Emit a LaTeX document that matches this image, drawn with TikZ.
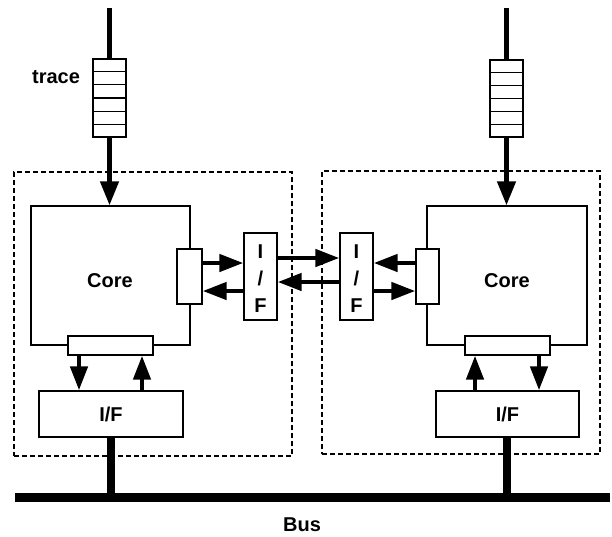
\documentclass[tikz,border=0pt]{standalone}
\usepackage{fontspec}
\setmainfont{Liberation Sans}
\usetikzlibrary{arrows.meta,calc}
\begin{document}
\begin{tikzpicture}[x=1pt,y=-1pt,
  box/.style={draw,line width=1.3pt,inner sep=0pt,fill=white},
  dashbox/.style={draw,line width=1.2pt,dash pattern=on 5pt off 3pt,inner sep=0pt},
  lbl/.style={inner sep=0pt,font=\fontsize{20}{22}\selectfont\bfseries},
  bigarrow/.style={line width=4.5pt,-{Triangle[length=24pt,width=18pt]}},
  smallarrow/.style={line width=4.5pt,-{Triangle[length=24pt,width=17pt]}},
  thickline/.style={line width=4.5pt},
  busline/.style={line width=9pt},
  stub/.style={line width=8pt}
]
\useasboundingbox (0,0) rectangle (612,536);

% dashed enclosures
\node[dashbox,minimum width=278pt,minimum height=284pt] (ldash) at (153,314) {};
\node[dashbox,minimum width=278pt,minimum height=283pt] (rdash) at (461,312.5) {};

% cores
\node[box,minimum width=159pt,minimum height=139pt] (lcore) at (110.5,275.5) {};
\node[box,minimum width=160pt,minimum height=139pt] (rcore) at (507,275.5) {};
\node[lbl] (lcoretxt) at (110,281) {Core};
\node[lbl] (rcoretxt) at (507,281) {Core};

% ports
\node[box,minimum width=25pt,minimum height=55pt] (lport) at (189.5,276.5) {};
\node[box,minimum width=23pt,minimum height=55pt] (rport) at (427.5,276.5) {};
\node[box,minimum width=85pt,minimum height=19pt] (lbport) at (110.5,345.5) {};
\node[box,minimum width=85pt,minimum height=19pt] (rbport) at (507.5,345.5) {};

% interface boxes
\node[box,minimum width=144pt,minimum height=46pt,lbl] (lif) at (111,414) {I/F};
\node[box,minimum width=143pt,minimum height=46pt,lbl] (rif) at (507.5,414) {I/F};
\node[box,minimum width=33pt,minimum height=87pt] (lsif) at (260.5,276.5) {};
\node[box,minimum width=33pt,minimum height=87pt] (rsif) at (356.5,276.5) {};
\node[lbl,align=center] (lsiftxt) at (260.5,279) {I\\[5pt]/\\[5pt]F};
\node[lbl,align=center] (rsiftxt) at (356.5,279) {I\\[5pt]/\\[5pt]F};

% trace fifos
\node[box,minimum width=33pt,minimum height=78pt] (lfifo) at (109.5,98) {};
\node[box,minimum width=33pt,minimum height=77pt] (rfifo) at (506.5,98.5) {};
\foreach \k in {1,...,5}{
  \draw[line width=1.3pt] ($(lfifo.north west)!\k/6!(lfifo.south west)$) -- ($(lfifo.north east)!\k/6!(lfifo.south east)$);
  \draw[line width=1.3pt] ($(rfifo.north west)!\k/6!(rfifo.south west)$) -- ($(rfifo.north east)!\k/6!(rfifo.south east)$);
}
\node[lbl] (tracetxt) at (56,77) {trace};

\coordinate (ltop) at (109.5,8);
\coordinate (rtop) at (506.5,8);
\draw[thickline] (ltop) -- (lfifo.north);
\draw[thickline] (rtop) -- (rfifo.north);
\draw[bigarrow] (lfifo.south) -- (lfifo.south |- lcore.north);
\draw[bigarrow] (rfifo.south) -- (rfifo.south |- rcore.north);

% horizontal arrows (yshift positive = upward on the page)
\draw[smallarrow] ([yshift=13.5pt]lport.east) -- ([yshift=13.5pt]lsif.west);
\draw[smallarrow] ([yshift=-14.5pt]lsif.west) -- ([yshift=-14.5pt]lport.east);
\draw[smallarrow] ([yshift=18.5pt]lsif.east) -- ([yshift=18.5pt]rsif.west);
\draw[smallarrow] ([yshift=-5.5pt]rsif.west) -- ([yshift=-5.5pt]lsif.east);
\draw[smallarrow] ([yshift=13.5pt]rport.west) -- ([yshift=13.5pt]rsif.east);
\draw[smallarrow] ([yshift=-14.5pt]rsif.east) -- ([yshift=-14.5pt]rport.west);

% vertical arrows between ports and I/F
\draw[smallarrow] ([xshift=-31.5pt]lbport.south) -- ([xshift=-32pt]lif.north);
\draw[smallarrow] ([xshift=31pt]lif.north) -- ([xshift=31.5pt]lbport.south);
\draw[smallarrow] ([xshift=-32.5pt]rif.north) -- ([xshift=-32.5pt]rbport.south);
\draw[smallarrow] ([xshift=31.5pt]rbport.south) -- ([xshift=31.5pt]rif.north);

% bus
\coordinate (busL) at (15,497.5);
\coordinate (busR) at (610,497.5);
\draw[busline] (busL) -- (busR);
\draw[stub] (lif.south) -- (lif.south |- busL);
\draw[stub] ([xshift=-0.5pt]rif.south) -- ([xshift=-0.5pt]rif.south |- busL);
\node[lbl] (bustxt) at (302,525) {Bus};
\end{tikzpicture}
\end{document}
